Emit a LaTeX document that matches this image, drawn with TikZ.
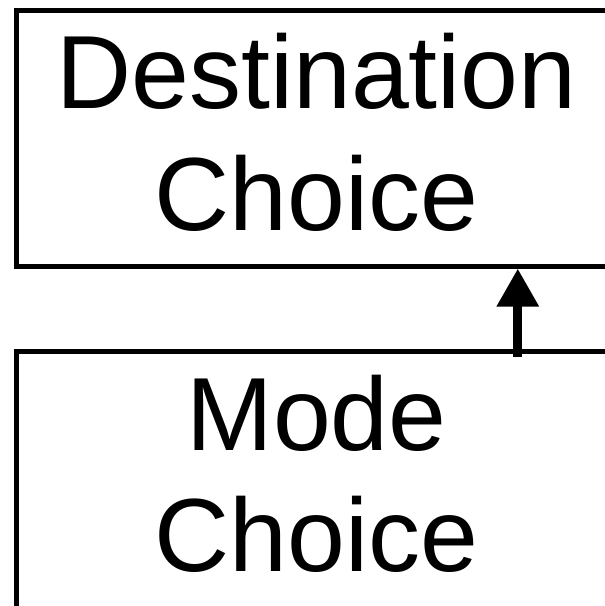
\documentclass[tikz,border=0pt]{standalone}
\usepackage{fontspec}
\setmainfont{Liberation Sans}
\usetikzlibrary{arrows.meta}
\tikzset{
  box/.style={draw=black, line width=5pt, fill=none, inner sep=0pt, outer sep=0pt, anchor=north west},
  lbl/.style={inner sep=0pt, anchor=base, font=\fontsize{104}{122}\selectfont},
  arr/.style={line width=9pt, -{Triangle[width=40pt,length=38pt]}}
}
\begin{document}
\begin{tikzpicture}[x=1pt,y=-1pt]
\useasboundingbox (0,0) rectangle (605,606);
\clip (0,0) rectangle (605,606);
\node[box, minimum width=640pt, minimum height=255.9pt] (dest) at (16.5,10.8) {};
\node[box, minimum width=640pt, minimum height=300pt] (mode) at (16.5,351.8) {};
\node[lbl] (t1) at (316.5,108.3) {Destination};
\node[lbl] (t2) at (316.5,230) {Choice};
\node[lbl] (t3) at (316.5,450) {Mode};
\node[lbl] (t4) at (316.5,571.7) {Choice};
\coordinate (ax) at (517.8,300);
\draw[arr] ([yshift=-5pt]mode.north -| ax) -- ([yshift=-1.8pt]dest.south -| ax);
\end{tikzpicture}
\end{document}
